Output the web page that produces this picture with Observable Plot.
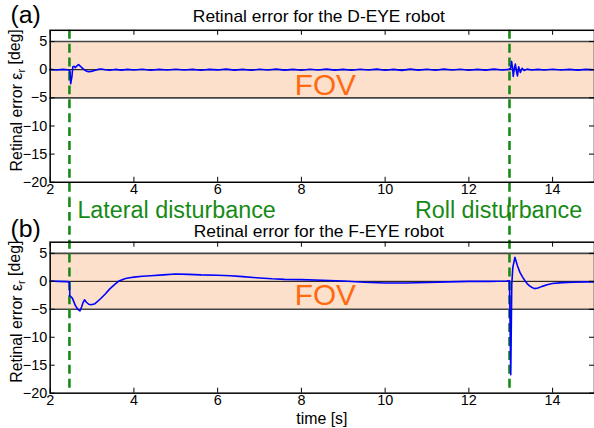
<!DOCTYPE html>
<html><head><meta charset="utf-8">
<script src="https://cdn.jsdelivr.net/npm/d3@7"></script>
<script src="https://cdn.jsdelivr.net/npm/@observablehq/plot@0.6"></script>
<style>
html,body{margin:0;padding:0;background:#fff;overflow:hidden;}
#chart{width:594px;height:428px;overflow:hidden;position:relative;}
#chart svg{display:block;}
</style></head><body><div id="chart"></div>
<script>
const xDomain = [2, 15];
const yDomain = [-20, 7];
const xTicks = [2, 4, 6, 8, 10, 12, 14];
const yTicks = [-20, -15, -10, -5, 0, 5];
const fovBounds = [-5, 5];
const zeroLine = [0];
const events = [2.46, 12.97];
const eventLabels = ["Lateral disturbance", "Roll disturbance"];
const panelTags = ["(a)", "(b)"];
const panelTitles = ["Retinal error for the D-EYE robot", "Retinal error for the F-EYE robot"];
const fovLabel = "FOV";
const yLabelMain = "Retinal error ε";
const yLabelSub = "r";
const yLabelUnit = " [deg]";
const xLabel = "time [s]";

const dEyeTime = [2.0,2.15,2.3,2.42,2.47,2.49,2.52,2.54,2.57,2.6,2.64,2.68,2.73,2.79,2.85,2.91,2.98,3.06,3.14,3.22,3.32,3.42,3.55,3.7,3.85,4.0,4.2,4.4,4.6,4.8,5.0,5.2,5.4,5.6,5.8,6.0,6.2,6.4,6.6,6.8,7.0,7.2,7.4,7.6,7.8,8.0,8.2,8.4,8.6,8.8,9.0,9.2,9.4,9.6,9.8,10.0,10.2,10.4,10.6,10.8,11.0,11.2,11.4,11.6,11.8,12.0,12.2,12.4,12.6,12.8,12.95,13.0,13.02,13.045,13.06,13.085,13.11,13.135,13.16,13.19,13.23,13.27,13.32,13.39,13.5,13.65,13.8,14.0,14.2,14.4,14.6,14.8,15.0];
const dEyeError = [0.05,-0.05,0.05,0.0,-0.2,-2.5,-1.2,0.5,0.6,0.35,0.7,0.9,0.55,0.15,-0.2,-0.35,-0.3,-0.15,0.05,0.12,0.0,-0.1,0.05,-0.08,0.06,-0.05,0.08,-0.1,0.05,-0.06,0.08,-0.05,0.05,-0.1,0.06,-0.04,0.1,-0.08,0.05,-0.1,0.07,-0.05,0.1,-0.08,0.05,-0.1,0.08,-0.06,0.1,-0.08,0.06,-0.1,0.08,-0.05,0.1,-0.1,0.06,-0.12,0.1,-0.08,0.07,-0.1,0.1,-0.06,0.08,-0.1,0.06,-0.08,0.1,-0.06,0.05,0.3,1.5,0.2,-1.2,0.2,1.0,-0.2,-1.1,0.5,-0.5,0.25,-0.15,0.1,-0.05,0.06,-0.05,0.07,-0.06,0.05,-0.07,0.05,0.0];

const fEyeTime = [2.0,2.2,2.4,2.46,2.47,2.53,2.6,2.66,2.71,2.75,2.79,2.82,2.86,2.92,2.98,3.07,3.19,3.31,3.43,3.55,3.63,3.72,3.8,3.9,4.0,4.2,4.4,4.7,5.0,5.3,5.6,6.0,6.3,6.6,7.0,7.3,7.6,8.0,8.5,9.0,9.5,10.0,10.5,11.0,11.5,12.0,12.5,12.9,12.97,13.0,13.025,13.05,13.1,13.16,13.22,13.28,13.34,13.39,13.45,13.51,13.57,13.65,13.75,13.87,13.99,14.23,14.5,14.8,15.0];
const fEyeError = [0.05,0.0,-0.05,-0.1,-2.6,-3.0,-4.3,-5.0,-5.3,-4.6,-3.7,-3.3,-3.7,-4.1,-4.2,-4.0,-3.2,-2.3,-1.3,-0.5,0.0,0.3,0.5,0.65,0.75,0.9,1.0,1.15,1.3,1.25,1.15,1.1,1.0,0.85,0.6,0.45,0.35,0.3,0.2,0.05,-0.15,-0.3,-0.3,-0.2,-0.1,0.0,0.0,0.05,0.1,-16.7,-0.5,2.5,4.3,2.8,1.6,0.8,0.1,-0.4,-0.8,-1.1,-1.3,-1.2,-0.9,-0.6,-0.4,-0.23,-0.15,-0.1,-0.1];

const dEye = dEyeTime.map((t, i) => ({t, e: dEyeError[i]}));
const fEye = fEyeTime.map((t, i) => ({t, e: fEyeError[i]}));

const FONT = "'Liberation Sans', Arial, Helvetica, sans-serif";
const W = 598;
const GREEN = "#168a16";

function panel(data, idx, opts) {
  const {height, marginTop, marginBottom, ruleInsetTop, ruleInsetBottom, extras} = opts;
  const marginLeft = 50, marginRight = 0;
  const frameH = height - marginTop - marginBottom;
  const frameW = W - marginLeft - marginRight;
  const fullLabel = yLabelMain + yLabelSub + yLabelUnit;
  const svg = Plot.plot({
    width: W, height, marginTop, marginBottom, marginLeft, marginRight,
    style: {fontFamily: FONT, fontSize: "14px", background: "transparent", overflow: "visible"},
    x: {domain: xDomain, label: null},
    y: {domain: yDomain, label: null},
    marks: [
      Plot.rect([fovBounds], {x1: xDomain[0], x2: xDomain[1], y1: d => d[0], y2: d => d[1], fill: "#fde0cc"}),
      Plot.text([fovLabel], {frameAnchor: "middle", textAnchor: "middle", dx: 3, dy: opts.fovDy, lineAnchor: "bottom", fill: "#ff6a10", fontSize: 30}),
      Plot.ruleY(fovBounds, {stroke: "#444", strokeWidth: 1.6}),
      Plot.ruleY(zeroLine, {stroke: "#000", strokeWidth: 1}),
      Plot.ruleX(events, {stroke: GREEN, strokeWidth: 2.6, strokeDasharray: "9,5", insetTop: ruleInsetTop, insetBottom: ruleInsetBottom}),
      Plot.line(data, {x: "t", y: "e", stroke: "#0000ff", strokeWidth: 1.6, curve: "linear"}),
      Plot.frame({stroke: "#000", strokeWidth: 1.5}),
      Plot.tickX(xTicks, {x: d => d, insetTop: frameH - 5, stroke: "#000"}),
      Plot.tickX(xTicks, {x: d => d, insetBottom: frameH - 5, stroke: "#000"}),
      Plot.tickY(yTicks, {y: d => d, insetRight: frameW - 5, stroke: "#000"}),
      Plot.tickY(yTicks, {y: d => d, insetLeft: frameW - 5, stroke: "#000"}),
      Plot.axisX(xTicks, {anchor: "bottom", tickSize: 0, tickPadding: 1.5, fontSize: 14.5, fill: "#000"}),
      Plot.axisY(yTicks, {anchor: "left", tickSize: 0, tickPadding: 3, fontSize: 14.5, fill: "#000"}),
      Plot.text([fullLabel], {frameAnchor: "left", textAnchor: "middle", dx: -34, dy: -6, rotate: -90, fontSize: 16, fill: "#000"}),
      Plot.text([panelTags[idx]], {frameAnchor: "top-left", dx: -40, dy: opts.tagDy, textAnchor: "start", lineAnchor: "bottom", fontSize: 25, fill: "#000"}),
      Plot.text([panelTitles[idx]], {frameAnchor: "top", textAnchor: "middle", dx: -3.5, dy: opts.titleDy, lineAnchor: "bottom", fontSize: 17.5, fill: "#000"}),
      ...extras
    ]
  });
  d3.select(svg).selectAll("text").filter(function() { return this.textContent === fullLabel; })
    .each(function() {
      const t = d3.select(this);
      t.text(null);
      t.append("tspan").text(yLabelMain);
      t.append("tspan").attr("dy", "0.35em").attr("font-size", "11px").text(yLabelSub);
      t.append("tspan").attr("dy", "-0.35em").text(yLabelUnit);
    });
  return svg;
}

const chart = document.getElementById("chart");
chart.appendChild(panel(dEye, 0, {
  height: 199, marginTop: 30, marginBottom: 16, ruleInsetTop: 0, ruleInsetBottom: -16,
  fovDy: -11.5, tagDy: -7.5, titleDy: -8.5, extras: []
}));
chart.appendChild(panel(fEye, 1, {
  height: 229, marginTop: 44, marginBottom: 33, ruleInsetTop: -44, ruleInsetBottom: 0,
  fovDy: -12.3, tagDy: -5.5, titleDy: -5.5,
  extras: [
    Plot.text([events[0]], {x: d => d, frameAnchor: "top", dx: 8, dy: -24, textAnchor: "start", lineAnchor: "bottom", text: () => eventLabels[0], fill: GREEN, fontSize: 23.5}),
    Plot.text([events[1]], {x: d => d, frameAnchor: "top", dx: -11, dy: -24, textAnchor: "middle", lineAnchor: "bottom", text: () => eventLabels[1], fill: GREEN, fontSize: 23.5}),
    Plot.text([xLabel], {frameAnchor: "bottom", textAnchor: "middle", dx: -0.5, dy: 31, lineAnchor: "bottom", fontSize: 16, fill: "#000"})
  ]
}));
</script></body></html>
